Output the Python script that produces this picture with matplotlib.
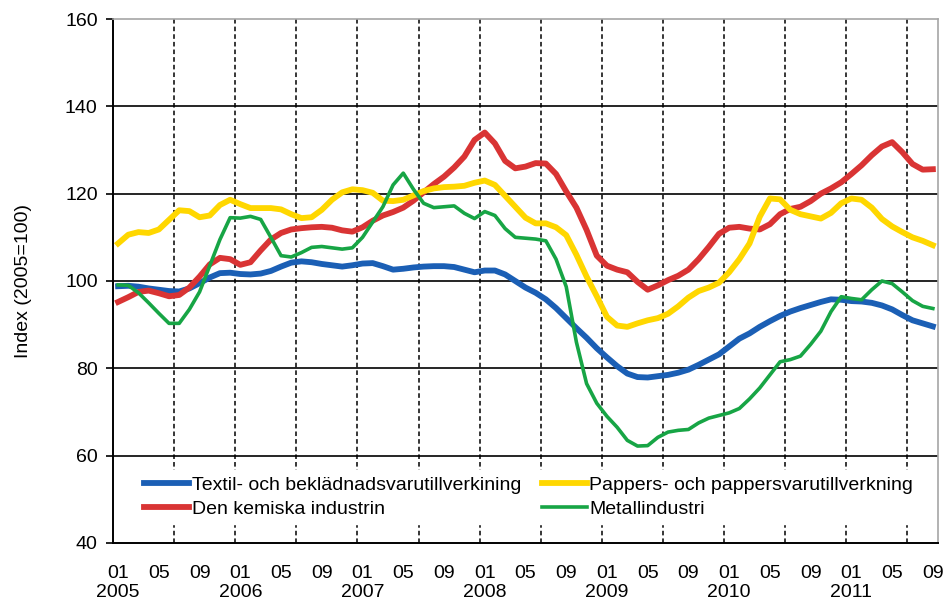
import matplotlib
matplotlib.use("Agg")
from matplotlib import pyplot as plt

plt.rcParams['font.family'] = ['Liberation Sans', 'DejaVu Sans']

# monthly index values, 2005-01 .. 2011-09
textil = [98.8, 98.9, 98.7, 98.3, 98.0, 97.7, 97.6, 98.3, 99.5, 100.8,
          101.8, 101.9, 101.6, 101.5, 101.7, 102.3, 103.3, 104.2, 104.5, 104.3,
          103.9, 103.6, 103.3, 103.6, 104.0, 104.1, 103.4, 102.6, 102.8, 103.1,
          103.3, 103.4, 103.4, 103.2, 102.6, 102.0, 102.4, 102.4, 101.5, 100.0,
          98.5, 97.3, 95.8, 93.8, 91.5, 89.2, 87.0, 84.6, 82.5, 80.5,
          78.8, 78.0, 77.9, 78.2, 78.5, 79.0, 79.7, 80.8, 82.0, 83.2,
          85.0, 86.8, 88.0, 89.5, 90.8, 92.0, 93.0, 93.8, 94.5, 95.2,
          95.8, 95.7, 95.4, 95.3, 95.0, 94.4, 93.5, 92.2, 91.0, 90.3, 89.6]

pappers = [108.6, 110.6, 111.2, 111.0, 111.8, 114.0, 116.2, 116.0, 114.6, 115.0,
           117.4, 118.6, 117.6, 116.7, 116.7, 116.7, 116.4, 115.3, 114.4, 114.6,
           116.3, 118.6, 120.3, 121.0, 120.8, 120.2, 118.4, 118.3, 118.6, 119.6,
           120.6, 121.2, 121.5, 121.6, 121.8, 122.5, 123.0, 122.0, 119.5, 117.0,
           114.5, 113.2, 113.2, 112.3, 110.5, 106.0, 101.0, 96.5, 91.8, 89.8,
           89.5, 90.3, 91.0, 91.5, 92.5, 94.2, 96.2, 97.7, 98.5, 99.6,
           102.0, 105.0, 108.6, 114.7, 118.9, 118.7, 116.3, 115.3, 114.8, 114.3,
           115.6, 117.8, 118.9, 118.6, 116.8, 114.2, 112.5, 111.2, 110.0, 109.2, 108.2]

kemiska = [95.2, 96.3, 97.5, 97.8, 97.2, 96.5, 96.8, 98.5, 101.0, 103.8,
           105.3, 105.0, 103.7, 104.3, 107.0, 109.5, 111.0, 111.8, 112.1, 112.3,
           112.4, 112.2, 111.6, 111.3, 112.3, 113.8, 115.0, 115.8, 116.8, 118.4,
           120.3, 122.2, 123.9, 126.0, 128.5, 132.3, 134.0, 131.5, 127.5, 125.8,
           126.2, 127.0, 126.9, 124.5, 120.5, 116.8, 111.7, 105.8, 103.5, 102.6,
           102.0, 99.8, 98.0, 99.0, 100.2, 101.2, 102.6, 105.0, 107.8, 110.8,
           112.2, 112.4, 112.0, 111.8, 113.0, 115.3, 116.5, 117.0, 118.3, 120.0,
           121.2, 122.6, 124.5, 126.5, 128.8, 130.8, 131.8, 129.5, 126.8, 125.5, 125.6]

metall = [99.1, 99.0, 97.3, 95.0, 92.6, 90.3, 90.3, 93.5, 97.5, 103.5,
          109.5, 114.5, 114.4, 114.8, 114.1, 110.0, 105.8, 105.5, 106.5, 107.7,
          107.9, 107.6, 107.3, 107.6, 110.0, 113.5, 117.0, 122.0, 124.7, 121.0,
          117.8, 116.8, 117.0, 117.2, 115.5, 114.3, 115.9, 115.0, 112.0, 110.0,
          109.8, 109.6, 109.2, 105.0, 98.7, 86.0, 76.5, 72.0, 69.0, 66.5,
          63.5, 62.2, 62.3, 64.2, 65.4, 65.8, 66.0, 67.5, 68.6, 69.2,
          69.8, 70.8, 73.0, 75.5, 78.5, 81.5, 82.0, 82.8, 85.5, 88.5,
          93.0, 96.4, 96.0, 95.7, 98.0, 100.0, 99.4, 97.5, 95.5, 94.2, 93.7]

years = list(range(2005, 2012))
months = list(range(len(textil)))

tick_pos = months[::4]
tick_labels = []
for i in tick_pos:
    m = i % 12 + 1
    lab = '%02d' % m
    if m == 1:
        lab += '\n' + str(years[i // 12])
    tick_labels.append(lab)

fig = plt.figure(figsize=(9.44, 6.11), dpi=100)
ax = fig.add_axes([0.1197, 0.1113, 0.8739, 0.8576])

for y in range(60, 160, 20):
    ax.axhline(y, color='black', lw=1.2, zorder=1)
for k in range(13):
    ax.axvline(5.5 + 6 * k, color='black', lw=1.1, ls=(0, (3, 2)), zorder=1)

ax.plot(months, textil, color='#1b5fb5', lw=4.2, label='Textil- och beklädnadsvarutillverkining', zorder=3)
ax.plot(months, kemiska, color='#d93434', lw=4.2, label='Den kemiska industrin', zorder=3)
ax.plot(months, pappers, color='#ffd700', lw=4.2, label='Pappers- och pappersvarutillverkning', zorder=3)
ax.plot(months, metall, color='#17a545', lw=2.6, label='Metallindustri', zorder=3)

ax.set_xlim(-0.5, 80.5)
ax.set_ylim(40, 160)
ax.set_yticks(range(40, 161, 20))
ax.set_xticks(tick_pos)
ax.set_xticklabels(tick_labels, fontsize=14, linespacing=1.1)
ax.tick_params(axis='x', length=0, pad=16)
ax.tick_params(axis='y', labelsize=14, length=5, width=1.2, direction='out', pad=6)
ax.set_ylabel('Index (2005=100)', fontsize=14, labelpad=24)

for s in ['top', 'right']:
    ax.spines[s].set_color('#a6a6a6')
    ax.spines[s].set_linewidth(1.2)
for s in ['left', 'bottom']:
    ax.spines[s].set_color('black')
    ax.spines[s].set_linewidth(1.4)

leg = ax.legend(ncol=2, loc='lower left', bbox_to_anchor=(0.031, 0.036),
                fontsize=14, frameon=True, framealpha=1,
                facecolor='white', edgecolor='white', fancybox=False,
                handlelength=2.3, handletextpad=0.15, labelspacing=0.35,
                borderaxespad=0, borderpad=0.3, columnspacing=1.05)
leg.set_zorder(5)

fig.savefig('out.png', dpi=100)
